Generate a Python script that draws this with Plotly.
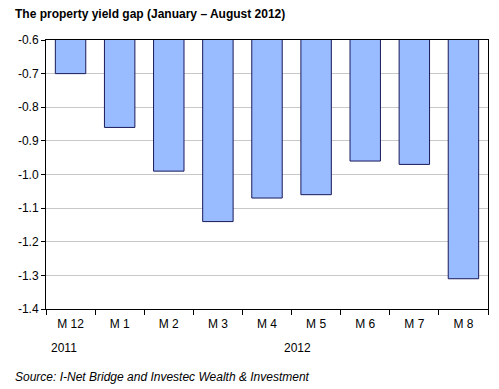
import plotly.graph_objects as go

categories = ["M 12", "M 1", "M 2", "M 3", "M 4", "M 5", "M 6", "M 7", "M 8"]
values = [-0.70, -0.86, -0.99, -1.14, -1.07, -1.06, -0.96, -0.97, -1.31]
y_ticks = [-0.6, -0.7, -0.8, -0.9, -1.0, -1.1, -1.2, -1.3, -1.4]
y_tick_labels = ["%.1f" % v for v in y_ticks]
years = ["2011", "2012"]

font = "Liberation Sans, Arial, sans-serif"

W, H = 491, 381
L, R, T, B = 33, 10, 32, 80
pw, ph = W - L - R, H - T - B


def px(xf):
    return (xf - L) / pw


def py(yf):
    return (H - B - yf) / ph


fig = go.Figure(go.Bar(
    x=categories, y=values,
    marker=dict(color="#99BBFF", line=dict(color="#1A1A5A", width=1)),
))

fig.update_layout(
    width=W, height=H,
    margin=dict(l=L, r=R, t=T, b=B),
    paper_bgcolor="white", plot_bgcolor="white",
    bargap=0.38, showlegend=False,
    font=dict(family=font, size=12, color="black"),
    xaxis=dict(
        type="category", showline=True, linecolor="black", linewidth=1,
        mirror=True, ticks="outside", tickson="boundaries", ticklen=5,
        tickcolor="black", showgrid=False, ticklabelstandoff=4,
        tickfont=dict(size=12),
    ),
    yaxis=dict(
        range=[-1.4, -0.6], tickvals=y_ticks, ticktext=y_tick_labels,
        showline=True, linecolor="black", linewidth=1, mirror=True,
        ticks="outside", ticklen=4, tickcolor="black",
        showgrid=True, gridcolor="#C8C8C8", gridwidth=1,
        zeroline=False, tickfont=dict(size=12),
    ),
    annotations=[
        dict(text="<b>The property yield gap (January – August 2012)</b>",
             x=px(0), y=py(6), xref="paper", yref="paper",
             xanchor="left", yanchor="middle", showarrow=False,
             font=dict(size=12)),
        dict(text=years[0], x=px(51), y=py(340), xref="paper", yref="paper",
             xanchor="center", yanchor="middle", showarrow=False,
             font=dict(size=12)),
        dict(text=years[1], x=px(288), y=py(340), xref="paper", yref="paper",
             xanchor="center", yanchor="middle", showarrow=False,
             font=dict(size=12)),
        dict(text="<i>Source: I-Net Bridge and Investec Wealth &amp; Investment</i>",
             x=px(0), y=py(369), xref="paper", yref="paper",
             xanchor="left", yanchor="middle", showarrow=False,
             font=dict(size=12)),
    ],
)

fig.write_html("out.html")
